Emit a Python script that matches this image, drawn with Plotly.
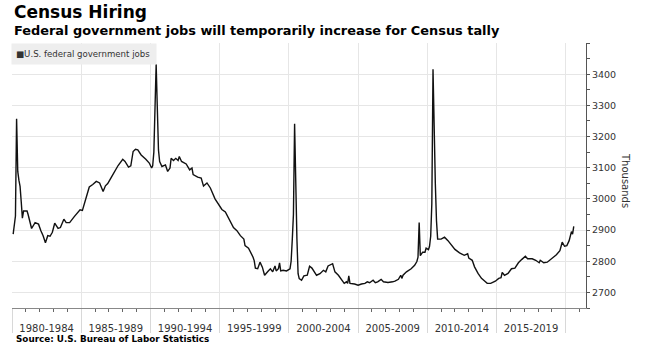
import pandas as pd
import plotly.graph_objects as go

# Monthly U.S. federal government employment (thousands), key months
months = [
    "1980-01", "1980-02", "1980-03", "1980-04", "1980-05", "1980-06", "1980-07", "1980-08",
    "1980-09", "1980-10", "1981-01", "1981-02", "1981-05", "1981-08", "1981-11", "1982-01",
    "1982-03", "1982-05", "1982-07", "1982-09", "1982-11", "1983-01", "1983-04", "1983-06",
    "1983-09", "1983-11", "1984-02", "1984-06", "1984-11", "1985-01", "1985-04", "1985-07",
    "1985-10", "1986-01", "1986-04", "1986-07", "1986-09", "1986-11", "1987-02", "1987-05",
    "1987-08", "1987-12", "1988-02", "1988-05", "1988-07", "1988-09", "1988-11", "1989-01",
    "1989-04", "1989-08", "1989-11", "1990-01", "1990-02", "1990-03", "1990-04", "1990-05",
    "1990-06", "1990-07", "1990-08", "1990-10", "1991-01", "1991-03", "1991-05", "1991-06",
    "1991-08", "1991-10", "1991-12", "1992-01", "1992-03", "1992-07", "1992-10", "1992-12",
    "1993-01", "1993-05", "1993-08", "1993-10", "1994-01", "1994-04", "1994-08", "1994-11",
    "1995-02", "1995-05", "1995-08", "1995-12", "1996-03", "1996-06", "1996-09", "1996-10",
    "1997-01", "1997-03", "1997-05", "1997-06", "1997-07", "1997-09", "1997-11", "1998-01",
    "1998-03", "1998-06", "1998-08", "1998-10", "1998-12", "1999-01", "1999-03", "1999-04",
    "1999-05", "1999-07", "1999-10", "2000-01", "2000-02", "2000-03", "2000-04", "2000-05",
    "2000-06", "2000-07", "2000-08", "2000-09", "2000-11", "2001-01", "2001-04", "2001-06",
    "2001-08", "2001-12", "2002-03", "2002-06", "2002-08", "2002-10", "2003-02", "2003-04",
    "2003-07", "2003-09", "2003-12", "2004-02", "2004-03", "2004-04", "2004-05", "2004-09",
    "2004-12", "2005-03", "2005-06", "2005-08", "2005-10", "2006-01", "2006-03", "2006-05",
    "2006-08", "2006-10", "2007-02", "2007-06", "2007-08", "2007-11", "2008-01", "2008-02",
    "2008-03", "2008-06", "2008-10", "2009-01", "2009-03", "2009-04", "2009-05", "2009-06",
    "2009-08", "2009-10", "2009-11", "2010-01", "2010-02", "2010-03", "2010-04", "2010-05",
    "2010-06", "2010-07", "2010-08", "2010-09", "2010-12", "2011-03", "2011-06", "2011-09",
    "2011-12", "2012-04", "2012-08", "2012-11", "2012-12", "2013-03", "2013-05", "2013-08",
    "2013-11", "2014-02", "2014-04", "2014-07", "2014-11", "2015-02", "2015-04", "2015-05",
    "2015-07", "2015-10", "2016-01", "2016-04", "2016-07", "2016-10", "2017-01", "2017-03",
    "2017-07", "2017-10", "2018-01", "2018-02", "2018-05", "2018-08", "2018-11", "2019-02",
    "2019-04", "2019-07", "2019-09", "2019-11", "2020-01", "2020-03", "2020-05", "2020-06",
    "2020-07",
]
jobs = [
    2887, 2915, 2945, 3257, 3088, 3060, 3040, 2990,
    2938, 2961, 2961, 2950, 2905, 2924, 2919, 2898,
    2882, 2859, 2882, 2880, 2893, 2922, 2905, 2908,
    2935, 2924, 2924, 2943, 2965, 2963, 3004, 3038,
    3046, 3056, 3051, 3024, 3042, 3049, 3068, 3088,
    3107, 3127, 3120, 3102, 3106, 3152, 3159, 3157,
    3141, 3127, 3115, 3099, 3106, 3150, 3263, 3432,
    3294, 3157, 3120, 3104, 3109, 3088, 3099, 3130,
    3123, 3130, 3123, 3136, 3120, 3112, 3093, 3099,
    3078, 3070, 3067, 3041, 3051, 3035, 3000, 2982,
    2966, 2958, 2935, 2908, 2898, 2882, 2871, 2850,
    2842, 2829, 2813, 2802, 2778, 2776, 2797, 2781,
    2755, 2768, 2776, 2766, 2785, 2769, 2776, 2795,
    2769, 2771, 2769, 2776, 2800, 2870, 2950, 3241,
    2998, 2871, 2760, 2744, 2739, 2753, 2755, 2784,
    2778, 2755, 2760, 2771, 2766, 2785, 2792, 2766,
    2755, 2745, 2729, 2734, 2729, 2753, 2729, 2727,
    2723, 2727, 2729, 2734, 2731, 2739, 2731, 2734,
    2742, 2734, 2732, 2734, 2736, 2742, 2755, 2745,
    2755, 2766, 2776, 2787, 2799, 2813, 2924, 2818,
    2829, 2829, 2842, 2837, 2848, 2880, 2985, 3416,
    3190, 3050, 2930, 2871, 2871, 2877, 2866, 2850,
    2838, 2827, 2819, 2824, 2810, 2803, 2782, 2761,
    2745, 2736, 2729, 2729, 2736, 2745, 2747, 2764,
    2755, 2761, 2776, 2778, 2795, 2806, 2816, 2808,
    2808, 2803, 2795, 2803, 2795, 2797, 2806, 2813,
    2821, 2834, 2861, 2848, 2850, 2866, 2895, 2887,
    2912,
]

period_starts = [1980, 1985, 1990, 1995, 2000, 2005, 2010, 2015, 2020]
period_labels = ["1980-1984", "1985-1989", "1990-1994", "1995-1999",
                 "2000-2004", "2005-2009", "2010-2014", "2015-2019"]
y_ticks = [2700, 2800, 2900, 3000, 3100, 3200, 3300, 3400, 3500]
y_labels = [str(v) for v in y_ticks[:-1]] + [""]

boundaries = [f"{y}-01-01" for y in period_starts]
label_pos = [
    (pd.Timestamp(f"{y}-01-01") + (pd.Timestamp(f"{y + 5}-01-01") - pd.Timestamp(f"{y}-01-01")) / 2)
    .strftime("%Y-%m-%d")
    for y in period_starts[:-1]
]

W, H = 645, 349
L, R, T, B = 12, 59, 42.5, 40.5
PW, PH = W - L - R, H - T - B

def px(x):
    return (x - L) / PW

def py(y):
    return 1 - (y - T) / PH

SANS = "DejaVu Sans, Verdana, sans-serif"

fig = go.Figure()
fig.add_trace(go.Scatter(
    x=months, y=jobs, mode="lines",
    xperiod="M1", xperiodalignment="end",
    line=dict(color="#111111", width=1.4),
    showlegend=False, hoverinfo="skip",
))

fig.update_layout(
    width=W, height=H,
    margin=dict(l=L, r=R, t=T, b=B),
    paper_bgcolor="white", plot_bgcolor="white",
    font=dict(family=SANS, color="#333333"),
    xaxis=dict(
        type="date", range=["1980-01-01", "2021-06-20"],
        tickmode="array", tickvals=boundaries, showticklabels=False,
        ticks="outside", ticklen=24, tickcolor="#d8d8d8", tickwidth=1,
        showgrid=True, gridcolor="#e6e6e6", gridwidth=1,
        showline=True, linecolor="#888888", linewidth=1,
        minor=dict(dtick="M12", tick0="1980-01-01", ticks="outside",
                   ticklen=3, tickcolor="#666666", showgrid=False),
        zeroline=False,
    ),
    xaxis2=dict(
        type="date", overlaying="x", matches="x", anchor="y", side="bottom",
        tickmode="array", tickvals=label_pos, ticktext=period_labels,
        ticks="outside", ticklen=11, tickcolor="rgba(0,0,0,0)",
        showgrid=False, showline=False, zeroline=False,
        tickfont=dict(size=10, color="#333333", family=SANS),
    ),
    yaxis=dict(
        side="right", range=[2650, 3500],
        tickmode="array", tickvals=y_ticks, ticktext=y_labels,
        ticks="outside", ticklen=3, tickcolor="#555555",
        showline=True, linecolor="#555555", linewidth=1,
        showgrid=True, gridcolor="#e6e6e6", gridwidth=1,
        minor=dict(dtick=50, tick0=2650, ticks="outside", ticklen=3,
                   tickcolor="#555555", showgrid=False),
        tickfont=dict(size=9.5, color="#333333", family=SANS),
        zeroline=False,
    ),
)

# Empty trace on the label axis so the period labels are rendered
fig.add_trace(go.Scatter(x=[], y=[], xaxis="x2", yaxis="y", showlegend=False))

fig.add_annotation(
    text="Census Hiring", xref="paper", yref="paper",
    x=px(12), y=py(11.5), xanchor="left", yanchor="middle", showarrow=False,
    font=dict(size=17, family=SANS, color="#000000", weight="bold"),
)
fig.add_annotation(
    text="Federal government jobs will temporarily increase for Census tally",
    xref="paper", yref="paper",
    x=px(12), y=py(29.5), xanchor="left", yanchor="middle", showarrow=False,
    font=dict(size=12.9, family=SANS, color="#000000", weight="bold"),
)
fig.add_annotation(
    text="■U.S. federal government jobs", xref="paper", yref="paper",
    x=px(11), y=py(42.5), xanchor="left", yanchor="top", showarrow=False,
    width=136, height=12, borderpad=4, align="left", valign="middle",
    bgcolor="#eeeeee",
    font=dict(size=8.6, family=SANS, color="#333333"),
)
fig.add_annotation(
    text="Thousands", xref="paper", yref="paper",
    x=px(625), y=py(180), xanchor="center", yanchor="middle", showarrow=False,
    textangle=90,
    font=dict(size=10, family=SANS, color="#333333"),
)
fig.add_annotation(
    text="Source: U.S. Bureau of Labor Statistics", xref="paper", yref="paper",
    x=px(13.5), y=py(339.5), xanchor="left", yanchor="middle", showarrow=False,
    font=dict(size=8.8, family=SANS, color="#000000", weight="bold"),
)

fig.write_html("out.html")
